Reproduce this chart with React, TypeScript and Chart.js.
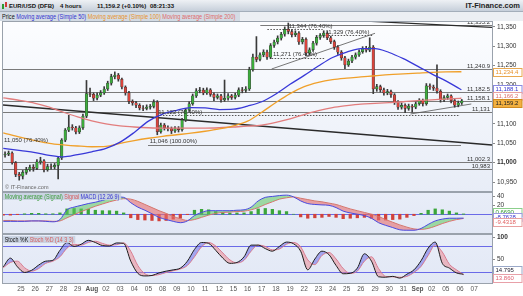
import React, { useEffect, useRef } from "react";
import { Chart, registerables } from "chart.js";

Chart.register(...registerables);

const FONT = '"Liberation Sans", Arial, sans-serif';

// ---------------- data ----------------
const dayLabels = ["25","26","27","28","29","Aug","02","03","04","05","08","09","10","11","12","15","16","17","18","19","22","23","24","25","26","29","30","31","Sep","02","05","06","07"];
const boldDayLabels = ["Aug", "Sep"];

const X_MIN = -1.27;
const X_MAX = 33.26;

const CANDLE_START = -1.25;
const CANDLES_PER_DAY = 4;
const FIRST_OPEN = 11020;
const closes = [
  11022,11025,11000,10970,10965,10975,10982,10988,10985,11002,
  11005,10982,10990,10989,10993,11012,11058,11084,11092,11090,
  11079,11090,11120,11178,11176,11166,11174,11180,11190,11205,
  11222,11226,11215,11195,11180,11158,11154,11148,11141,11140,
  11143,11145,11156,11080,11097,11090,11088,11082,11088,11085,
  11110,11136,11152,11172,11185,11187,11180,11188,11176,11168,
  11172,11162,11166,11172,11168,11174,11188,11186,11190,11240,
  11272,11266,11278,11285,11272,11302,11311,11321,11331,11344,
  11338,11330,11334,11311,11318,11282,11291,11308,11323,11328,
  11334,11322,11312,11298,11285,11270,11252,11262,11272,11278,
  11286,11294,11290,11298,11190,11196,11188,11180,11183,11175,
  11156,11143,11148,11140,11146,11143,11152,11160,11152,11198,
  11195,11192,11184,11162,11168,11172,11160,11148,11154,11159.2,
];
const highs = [
  11028,11030,11028,11003,10975,10980,10988,10994,10995,11008,
  11014,11008,10996,10997,10998,11016,11062,11088,11122,11098,
  11094,11095,11125,11212,11192,11180,11180,11186,11196,11210,
  11228,11234,11230,11218,11198,11184,11162,11158,11152,11147,
  11149,11150,11162,11160,11102,11101,11095,11092,11093,11093,
  11114,11140,11157,11177,11191,11194,11192,11193,11191,11180,
  11177,11176,11213,11178,11176,11179,11193,11194,11196,11246,
  11280,11325,11283,11291,11290,11307,11316,11327,11336,11350,
  11360,11343,11340,11338,11323,11322,11296,11313,11328,11333,
  11340,11338,11326,11316,11302,11289,11274,11267,11277,11283,
  11291,11299,11300,11322,11302,11202,11200,11192,11189,11187,
  11178,11160,11154,11152,11151,11150,11157,11165,11164,11204,
  11203,11200,11252,11188,11173,11177,11175,11163,11159,11163,
];
const lows = [
  11014,11018,10996,10964,10955,10958,10970,10978,10978,10982,
  10996,10976,10978,10983,10984,10958,11008,11054,11080,11084,
  11074,11075,11086,11116,11170,11160,11162,11170,11176,11186,
  11200,11216,11210,11190,11174,11152,11148,11142,11136,11134,
  11136,11138,11141,11072,11076,11084,11082,11075,11078,11079,
  11081,11106,11132,11148,11168,11180,11175,11176,11171,11160,
  11164,11156,11158,11161,11163,11164,11170,11180,11181,11186,
  11236,11260,11262,11273,11266,11268,11297,11306,11316,11326,
  11332,11324,11325,11305,11306,11276,11277,11287,11303,11318,
  11323,11317,11307,11292,11279,11264,11242,11248,11258,11267,
  11274,11282,11285,11286,11178,11184,11182,11174,11175,11168,
  11150,11137,11138,11129,11135,11130,11139,11148,11146,11148,
  11189,11186,11179,11156,11157,11163,11154,11143,11144,11150,
];

const maTimes = [-1.25,0,1,2,3,4,5,6,7,8,9,10,11,12,13,14,15,16,17,18,19,20,21,22,23,24,25,26,27,28,29,30,31,31.1];
const ma50 = [11037,11031,11026,11019,11015,11021,11028,11037,11053,11078,11107,11125,11135,11142,11141,11137,11138,11146,11157,11177,11202,11225,11249,11271,11285,11294,11294,11284,11268,11249,11229,11211,11190,11188.1];
const ma100 = [11077,11065,11057,11050,11046,11043,11041,11042,11050,11057,11063,11068,11072,11076,11081,11087,11095,11107,11130,11155,11178,11196,11207,11214,11218,11221,11224,11227,11229,11231,11233,11234,11234.4,11234.4];
const ma200 = [11167,11160,11153,11143,11130,11118,11108,11100,11095,11092,11090,11089,11089,11089,11089,11090,11092,11094,11097,11104,11113,11124,11134,11142,11147,11151,11153,11155,11157,11160,11162,11164,11166,11166.2];

const IND_START = -1.25;
const IND_STEP = 0.5;
const macdLine = [
  -16,-16,-16,-16,-15,-15,-16,-17,-12,10,
  16,20,24,27,31,36,39,38,26,16,
  9,1,-7,-12,-16,-19,-15,-3,4,8,
  8,8,8,9,10,16,30,38,40,42,
  43,39,30,24,22,21,20,15,7,3,
  0,-3,-9,-19,-25,-30,-35,-36,-36,-32,
  -23,-15,-11,-9,-9,-8.7628,
];
const signalLine = [
  -14,-14,-15,-15,-15,-15,-15,-16,-15,-8,
  -1,6,12,18,23,28,32,35,34,29,
  22,15,8,2,-5,-10,-14,-12,-7,-2,
  2,4,5,6,7,10,15,22,28,34,
  37,39,36,33,30,28,25,22,17,12,
  8,4,0,-5,-12,-18,-24,-29,-33,-34,
  -32,-27,-21,-16,-12,-9.4318,
];
const histogram = [
  -2,-2,-1,1,2,2,1,1,3,12,
  13,12,11,9,8,8,7,3,-8,-12,
  -13,-14,-15,-14,-11,-9,-1,9,11,10,
  6,4,3,3,3,6,12,13,11,8,
  6,0,-6,-9,-8,-7,-5,-7,-10,-9,
  -8,-7,-9,-13,-13,-12,-11,-7,-3,2,
  9,12,10,7,3,0.669,
];
const stochK = [
  32,52,32,19,24,36,45,47,70,88,
  79,84,93,88,81,80,87,86,45,17,
  11,12,18,22,25,29,45,72,88,86,
  70,52,40,42,55,82,82,74,68,79,
  89,85,68,25,50,68,60,35,16,17,
  29,62,45,9,8,10,6,15,25,46,
  75,89,40,29,18,14.795,
];
const stochD = [
  30,42,45,30,22,28,40,45,55,75,
  84,82,88,91,86,82,83,87,68,35,
  16,12,14,19,23,27,35,55,78,88,
  80,64,48,41,47,68,82,79,71,73,
  84,88,78,48,37,58,65,50,28,17,
  22,45,55,28,10,9,8,10,19,33,
  58,82,66,38,25,13.86,
];

const priceTicks = [10950,11000,11050,11100,11150,11200,11250,11300,11350];
const priceBoldTicks = [11000];
const macdTicks = [20, 40];
const stochTicks = [50, 100];
const stochBoldTicks = [100];
const PRICE_MIN = 10927;
const PRICE_MAX = 11362.6;
const MACD_MIN = -42.2;
const MACD_MAX = 47.8;
const STOCH_MIN = -5.3;
const STOCH_MAX = 105.3;
const macdLevels = [0];
const stochLevels = [20, 80];

const levelValues = [11355.2, 11240.9, 11182.5, 11158.1, 11131, 11002.3, 10983];
const levelLabels = ["11,355.2","11,240.9","11,182.5","11,158.1","11,131","11,002.3","10,983"];
const levelStarts = [16.9, X_MIN, X_MIN, X_MIN, X_MIN, X_MIN, X_MIN];

const fibValues = [11344, 11329, 11271, 11122, 11046, 11050];
const fibLabels = ["11,344 (76.40%)","11,329 (76.40%)","11,271 (76.40%)","11,122 (76.40%)","11,046 (100.00%)","11,050 (76.40%)"];
const fibFrom = [17.4, 21.3, 17.7, 9.6, 8.97, X_MIN];
const fibTo = [21.3, 24.8, 21.5, 31.0, 31.07, X_MIN];
const fibLabelAt = [18.9, 21.5, 17.8, 9.7, 9.1, -1.2];
const fibSolid = [false, false, false, false, true, false];

const trendFromT = [X_MIN, 16.9, 17.7, 27.5];
const trendFromV = [11148.7, 11378, 11241.5, 11125.5];
const trendToT = [X_MAX, X_MAX, 25.0, 31.8];
const trendToV = [11045.6, 11349, 11333.5, 11151.3];
const trendWidths = [1.4, 1.2, 0.8, 0.8];
const trendColors = ["#2a2a2a", "#2a2a2a", "#555", "#555"];

// ---------------- helpers ----------------
const fmt = (v: number) => String(v).replace(/\B(?=(\d{3})+(?!\d))/g, ",");
const candleT = (k: number) => CANDLE_START + (k + 0.5) / CANDLES_PER_DAY;
const indT = (j: number) => IND_START + IND_STEP * j;

function spread(ys: number[], gap: number) {
  const out = ys.slice();
  const idx = ys.map((_, i) => i).sort((a, b) => ys[a] - ys[b]);
  for (let it = 0; it < 30; it++) {
    for (let n = 1; n < idx.length; n++) {
      const a = idx[n - 1], b = idx[n];
      const d = out[b] - out[a];
      if (d < gap) { const m = (gap - d) / 2; out[a] -= m; out[b] += m; }
    }
  }
  return out;
}

type Box = { v: number; text: string; color: string; bg: string; border: string };

function boxPlugin(id: string, boxes: Box[], gap: number) {
  return {
    id,
    afterDraw(chart: any) {
      const { ctx, chartArea: a, scales } = chart;
      const y = scales.y;
      const ys = spread(boxes.map((b) => y.getPixelForValue(b.v)), gap);
      ctx.save();
      ctx.font = `6px ${FONT}`;
      ctx.textBaseline = "middle";
      ctx.textAlign = "left";
      boxes.forEach((b, i) => {
        const top = Math.round(ys[i] - 4) + 0.5;
        ctx.fillStyle = b.bg;
        ctx.fillRect(a.right + 1.5, top, 28.5, 8);
        ctx.strokeStyle = b.border;
        ctx.lineWidth = 1;
        ctx.strokeRect(a.right + 1.5, top, 28.5, 8);
        ctx.fillStyle = b.color;
        ctx.fillText(b.text, a.right + 3.5, top + 4.3);
      });
      ctx.restore();
    },
  };
}

function bgPlugin(id: string, top: string, bottom: string) {
  return {
    id,
    beforeDraw(chart: any) {
      const { ctx, chartArea: a } = chart;
      ctx.save();
      const g = ctx.createLinearGradient(0, a.top, 0, a.bottom);
      g.addColorStop(0, top);
      g.addColorStop(1, bottom);
      ctx.fillStyle = g;
      ctx.fillRect(a.left, a.top, a.right - a.left, a.bottom - a.top);
      ctx.restore();
    },
    afterDraw(chart: any) {
      const { ctx, chartArea: a } = chart;
      ctx.save();
      ctx.strokeStyle = "#9aa2ac";
      ctx.lineWidth = 1;
      ctx.strokeRect(a.left - 0.5, a.top - 0.5, a.right - a.left + 1, a.bottom - a.top + 1);
      ctx.restore();
    },
  };
}

function hLinesPlugin(id: string, values: number[], color: string) {
  return {
    id,
    beforeDatasetsDraw(chart: any) {
      const { ctx, chartArea: a, scales } = chart;
      ctx.save();
      ctx.strokeStyle = color;
      ctx.lineWidth = 1;
      values.forEach((v) => {
        const py = Math.round(scales.y.getPixelForValue(v)) + 0.5;
        ctx.beginPath();
        ctx.moveTo(a.left, py);
        ctx.lineTo(a.right, py);
        ctx.stroke();
      });
      ctx.restore();
    },
  };
}

const mainAnno = {
  id: "mainAnno",
  beforeDatasetsDraw(chart: any) {
    const { ctx, chartArea: a, scales } = chart;
    const x = scales.x, y = scales.y;
    ctx.save();
    ctx.beginPath();
    ctx.rect(a.left, a.top, a.right - a.left, a.bottom - a.top);
    ctx.clip();
    ctx.lineWidth = 1;
    ctx.strokeStyle = "#7a7a7a";
    levelValues.forEach((v, i) => {
      const py = Math.round(y.getPixelForValue(v)) + 0.5;
      ctx.beginPath();
      ctx.moveTo(x.getPixelForValue(levelStarts[i]), py);
      ctx.lineTo(a.right, py);
      ctx.stroke();
    });
    fibValues.forEach((v, i) => {
      if (fibTo[i] <= fibFrom[i]) return;
      const py = Math.round(y.getPixelForValue(v)) + 0.5;
      ctx.setLineDash(fibSolid[i] ? [] : [1.5, 1.5]);
      ctx.strokeStyle = fibSolid[i] ? "#7a7a7a" : "#555";
      ctx.beginPath();
      ctx.moveTo(x.getPixelForValue(fibFrom[i]), py);
      ctx.lineTo(x.getPixelForValue(fibTo[i]), py);
      ctx.stroke();
    });
    ctx.setLineDash([]);
    trendFromT.forEach((t, i) => {
      ctx.strokeStyle = trendColors[i];
      ctx.lineWidth = trendWidths[i];
      ctx.beginPath();
      ctx.moveTo(x.getPixelForValue(t), y.getPixelForValue(trendFromV[i]));
      ctx.lineTo(x.getPixelForValue(trendToT[i]), y.getPixelForValue(trendToV[i]));
      ctx.stroke();
    });
    ctx.restore();
  },
  afterDatasetsDraw(chart: any) {
    const { ctx, chartArea: a, scales } = chart;
    const x = scales.x, y = scales.y;
    ctx.save();
    ctx.font = `6px ${FONT}`;
    ctx.fillStyle = "#333";
    ctx.textBaseline = "alphabetic";
    ctx.textAlign = "right";
    levelValues.forEach((v, i) => {
      ctx.fillText(levelLabels[i], a.right - 2, y.getPixelForValue(v) - 1);
    });
    ctx.textAlign = "left";
    fibValues.forEach((v, i) => {
      ctx.fillText(fibLabels[i], x.getPixelForValue(fibLabelAt[i]), y.getPixelForValue(v) - 1.5);
    });
    ctx.fillStyle = "#666";
    ctx.font = `5.5px ${FONT}`;
    ctx.fillText("\u00a9 IT-Finance.com", a.left + 2, a.bottom - 2);
    ctx.restore();
  },
};

const xScale = (display: boolean) => ({
  type: "linear",
  min: X_MIN,
  max: X_MAX,
  offset: false,
  display,
  grid: { display: false, drawTicks: false, offset: false },
  border: { display: false },
  afterBuildTicks: (s: any) => { s.ticks = dayLabels.map((_, i) => ({ value: i })); },
  afterFit: (s: any) => {
    s.height = display ? 13 : 0;
    s.paddingLeft = 0;
    s.paddingRight = 0;
  },
  ticks: {
    autoSkip: false,
    maxRotation: 0,
    minRotation: 0,
    padding: 2,
    color: "#555",
    font: (c: any) => ({ size: 6.5, family: FONT, weight: boldDayLabels.includes(dayLabels[c.index]) ? "bold" : "normal" }),
    callback: (_v: any, i: number) => dayLabels[i] ?? "",
  },
});

const yScale = (min: number, max: number, ticks: number[], bold: number[], f: (v: number) => string) => ({
  type: "linear",
  position: "right",
  min,
  max,
  afterBuildTicks: (s: any) => { s.ticks = ticks.map((v) => ({ value: v })); },
  afterFit: (s: any) => { s.width = 31; s.paddingTop = 0; s.paddingBottom = 0; },
  grid: { drawOnChartArea: false, drawTicks: true, tickLength: 3, color: "#8a8a8a" },
  border: { display: true, color: "#8a8a8a" },
  ticks: {
    padding: 2,
    color: "#333",
    font: (c: any) => ({ size: 6.5, family: FONT, weight: c.tick && bold.includes(c.tick.value) ? "bold" : "normal" }),
    callback: (v: any) => f(Number(v)),
  },
});

const baseOptions = (padding: any) => ({
  responsive: false,
  animation: false,
  devicePixelRatio: 1,
  layout: { padding },
  plugins: { legend: { display: false }, tooltip: { enabled: false } },
  events: [],
});

function mainConfig(): any {
  const opens = closes.map((c, k) => (k === 0 ? FIRST_OPEN : closes[k - 1]));
  const bodies = closes.map((c, k) => ({ x: candleT(k), y: [opens[k], c] }));
  const wicks = closes.map((_, k) => ({ x: candleT(k), y: [lows[k], highs[k]] }));
  const bodyColors = closes.map((c, k) => (c >= opens[k] ? "#3cab3c" : "#d8443c"));
  const maLine = (vals: number[], color: string) => ({
    type: "line",
    data: vals.map((v, i) => ({ x: maTimes[i], y: v })),
    borderColor: color,
    borderWidth: 1.3,
    pointRadius: 0,
    cubicInterpolationMode: "monotone",
    fill: false,
    order: 0,
  });
  const last = closes.length - 1;
  const boxes: Box[] = [
    { v: ma100[ma100.length - 1], text: fmt(ma100[ma100.length - 1]), color: "#e8922a", bg: "#fff", border: "#e8a850" },
    { v: ma50[ma50.length - 1], text: fmt(ma50[ma50.length - 1]), color: "#3434d0", bg: "#fff", border: "#8a8ae0" },
    { v: ma200[ma200.length - 1], text: fmt(ma200[ma200.length - 1]), color: "#e07070", bg: "#fff", border: "#e8a0a0" },
    { v: closes[last], text: fmt(closes[last]), color: "#222", bg: "#f2b040", border: "#d08a20" },
  ];
  return {
    type: "bar",
    data: {
      datasets: [
        maLine(ma50, "#3838d8"),
        maLine(ma100, "#f0a02a"),
        maLine(ma200, "#e27d7d"),
        { type: "bar", data: bodies, backgroundColor: bodyColors, borderColor: "rgba(35,35,35,0.85)", borderWidth: 0.5, borderSkipped: false, barThickness: 2.6, grouped: false, order: 1 },
        { type: "bar", data: wicks, backgroundColor: "#3a3a3a", barThickness: 1, grouped: false, order: 2 },
      ],
    },
    options: {
      ...baseOptions({ left: 3, right: 0, top: 1, bottom: 1 }),
      scales: {
        x: xScale(false),
        y: yScale(PRICE_MIN, PRICE_MAX, priceTicks, priceBoldTicks, fmt),
      },
    },
    plugins: [bgPlugin("bgMain", "#fcfdff", "#e8edf7"), mainAnno, boxPlugin("boxMain", boxes, 7)],
  };
}

function macdConfig(): any {
  const n = macdLine.length - 1;
  const boxes: Box[] = [
    { v: histogram[n], text: histogram[n].toFixed(4), color: "#2a9a2a", bg: "#fff", border: "#8ccf8c" },
    { v: macdLine[n], text: macdLine[n].toFixed(4), color: "#3434d0", bg: "#fff", border: "#9a9ae0" },
    { v: signalLine[n], text: signalLine[n].toFixed(4), color: "#e06060", bg: "#fff", border: "#e8a0a0" },
  ];
  return {
    type: "bar",
    data: {
      datasets: [
        {
          type: "bar",
          data: histogram.map((v, j) => ({ x: indT(j), y: v })),
          backgroundColor: histogram.map((v) => (v >= 0 ? "#3aa63a" : "#d2413a")),
          barThickness: 2.6,
          grouped: false,
          order: 3,
        },
        {
          type: "line",
          data: macdLine.map((v, j) => ({ x: indT(j), y: v })),
          borderColor: "#4a4ae0",
          borderWidth: 1,
          pointRadius: 0,
          cubicInterpolationMode: "monotone",
          fill: { target: 2, above: "rgba(95,200,95,0.55)", below: "rgba(230,110,110,0.6)" },
          order: 0,
        },
        {
          type: "line",
          data: signalLine.map((v, j) => ({ x: indT(j), y: v })),
          borderColor: "#e07070",
          borderWidth: 1,
          pointRadius: 0,
          cubicInterpolationMode: "monotone",
          fill: false,
          order: 1,
        },
      ],
    },
    options: {
      ...baseOptions({ left: 3, right: 0, top: 1, bottom: 1 }),
      scales: {
        x: xScale(false),
        y: yScale(MACD_MIN, MACD_MAX, macdTicks, [], (v) => String(v)),
      },
    },
    plugins: [bgPlugin("bgMacd", "#e8edf8", "#e2e8f5"), hLinesPlugin("macdZero", macdLevels, "#6a6ae8"), boxPlugin("boxMacd", boxes, 5)],
  };
}

function stochConfig(): any {
  const n = stochK.length - 1;
  const boxes: Box[] = [
    { v: stochK[n], text: stochK[n].toFixed(3), color: "#223", bg: "#fff", border: "#9aa8c8" },
    { v: stochD[n], text: stochD[n].toFixed(3), color: "#e06070", bg: "#fff", border: "#e8a0a8" },
  ];
  return {
    type: "line",
    data: {
      datasets: [
        {
          data: stochK.map((v, j) => ({ x: indT(j), y: v })),
          borderColor: "#1e1e1e",
          borderWidth: 1,
          pointRadius: 0,
          cubicInterpolationMode: "monotone",
          fill: { target: 1, above: "rgba(95,95,230,0.5)", below: "rgba(235,130,140,0.5)" },
          order: 0,
        },
        {
          data: stochD.map((v, j) => ({ x: indT(j), y: v })),
          borderColor: "#e47f88",
          borderWidth: 1,
          pointRadius: 0,
          cubicInterpolationMode: "monotone",
          fill: false,
          order: 1,
        },
      ],
    },
    options: {
      ...baseOptions({ left: 3, right: 0, top: 1, bottom: 0 }),
      scales: {
        x: xScale(true),
        y: yScale(STOCH_MIN, STOCH_MAX, stochTicks, stochBoldTicks, (v) => String(v)),
      },
    },
    plugins: [bgPlugin("bgStoch", "#e8edf8", "#e2e8f5"), hLinesPlugin("stochLv", stochLevels, "#6a6ae8"), boxPlugin("boxStoch", boxes, 8)],
  };
}

// ---------------- component ----------------
const headTxt: React.CSSProperties = {
  position: "absolute",
  top: 0,
  lineHeight: "12px",
  fontSize: 6,
  fontWeight: "bold",
  color: "#111",
  whiteSpace: "nowrap",
};

const legendBox: React.CSSProperties = {
  position: "absolute",
  left: 3,
  height: 7,
  lineHeight: "7px",
  fontSize: 6.3,
  whiteSpace: "nowrap",
  background: "rgba(198,208,224,0.9)",
  padding: "0 2px",
  transform: "scaleX(0.85)",
  transformOrigin: "left center",
};

export default function App() {
  const mainRef = useRef<HTMLCanvasElement>(null);
  const macdRef = useRef<HTMLCanvasElement>(null);
  const stochRef = useRef<HTMLCanvasElement>(null);

  useEffect(() => {
    Chart.defaults.font.family = FONT;
    const charts = [
      new Chart(mainRef.current as HTMLCanvasElement, mainConfig()),
      new Chart(macdRef.current as HTMLCanvasElement, macdConfig()),
      new Chart(stochRef.current as HTMLCanvasElement, stochConfig()),
    ];
    return () => charts.forEach((c) => c.destroy());
  }, []);

  return (
    <div style={{ position: "fixed", left: 0, top: 0, width: 523, height: 296, background: "#fff", overflow: "hidden", fontFamily: FONT }}>
      <div style={{ position: "absolute", left: 0, top: 0, width: 523, height: 12, background: "linear-gradient(#eef1f5,#c6cfda)", borderBottom: "1px solid #a4aeba", boxSizing: "border-box" }}>
        <div style={{ position: "absolute", left: 2, top: 4, width: 2, height: 5, background: "#2f9a2f" }} />
        <div style={{ position: "absolute", left: 5, top: 2, width: 2, height: 5, background: "#d03a3a" }} />
        <span style={{ ...headTxt, left: 9 }}>EUR/USD (DFB)</span>
        <span style={{ ...headTxt, left: 60 }}>4 hours</span>
        <span style={{ ...headTxt, left: 97 }}>11,159.2 (+0.10%)</span>
        <span style={{ ...headTxt, left: 150 }}>08:21:33</span>
        <span style={{ ...headTxt, right: 3, fontSize: 7.5, color: "#222" }}>IT-Finance.com</span>
      </div>
      <div style={{ position: "absolute", left: 0, top: 12, width: 523, height: 9, background: "#eceff3" }}>
        <div style={{ position: "absolute", left: 0, top: 0, width: 240, height: 9, background: "#d3dbe4" }} />
        <div style={{ position: "absolute", left: 2, top: 0, lineHeight: "9px", fontSize: 6.5, whiteSpace: "nowrap", transform: "scaleX(0.86)", transformOrigin: "left center" }}>
          <span style={{ color: "#111" }}>Price </span>
          <span style={{ color: "#3434d0" }}>Moving average (Simple 50) </span>
          <span style={{ color: "#e8922a" }}>Moving average (Simple 100) </span>
          <span style={{ color: "#e06a6a" }}>Moving average (Simple 200)</span>
        </div>
      </div>
      <canvas ref={mainRef} width={523} height={171} style={{ position: "absolute", left: 0, top: 21, width: 523, height: 171 }} />
      <canvas ref={macdRef} width={523} height={42} style={{ position: "absolute", left: 0, top: 192, width: 523, height: 42 }} />
      <canvas ref={stochRef} width={523} height={62} style={{ position: "absolute", left: 0, top: 234, width: 523, height: 62 }} />
      <div style={{ ...legendBox, top: 193 }}>
        <span style={{ color: "#3a9a3a" }}>Moving average (Signal) </span>
        <span style={{ color: "#d85a5a" }}>Signal </span>
        <span style={{ color: "#3434d0" }}>MACD (12 26 9)</span>
      </div>
      <div style={{ ...legendBox, top: 236 }}>
        <span style={{ color: "#111" }}>Stoch %K </span>
        <span style={{ color: "#d85a5a" }}>Stoch %D (14 3 3)</span>
      </div>
    </div>
  );
}
